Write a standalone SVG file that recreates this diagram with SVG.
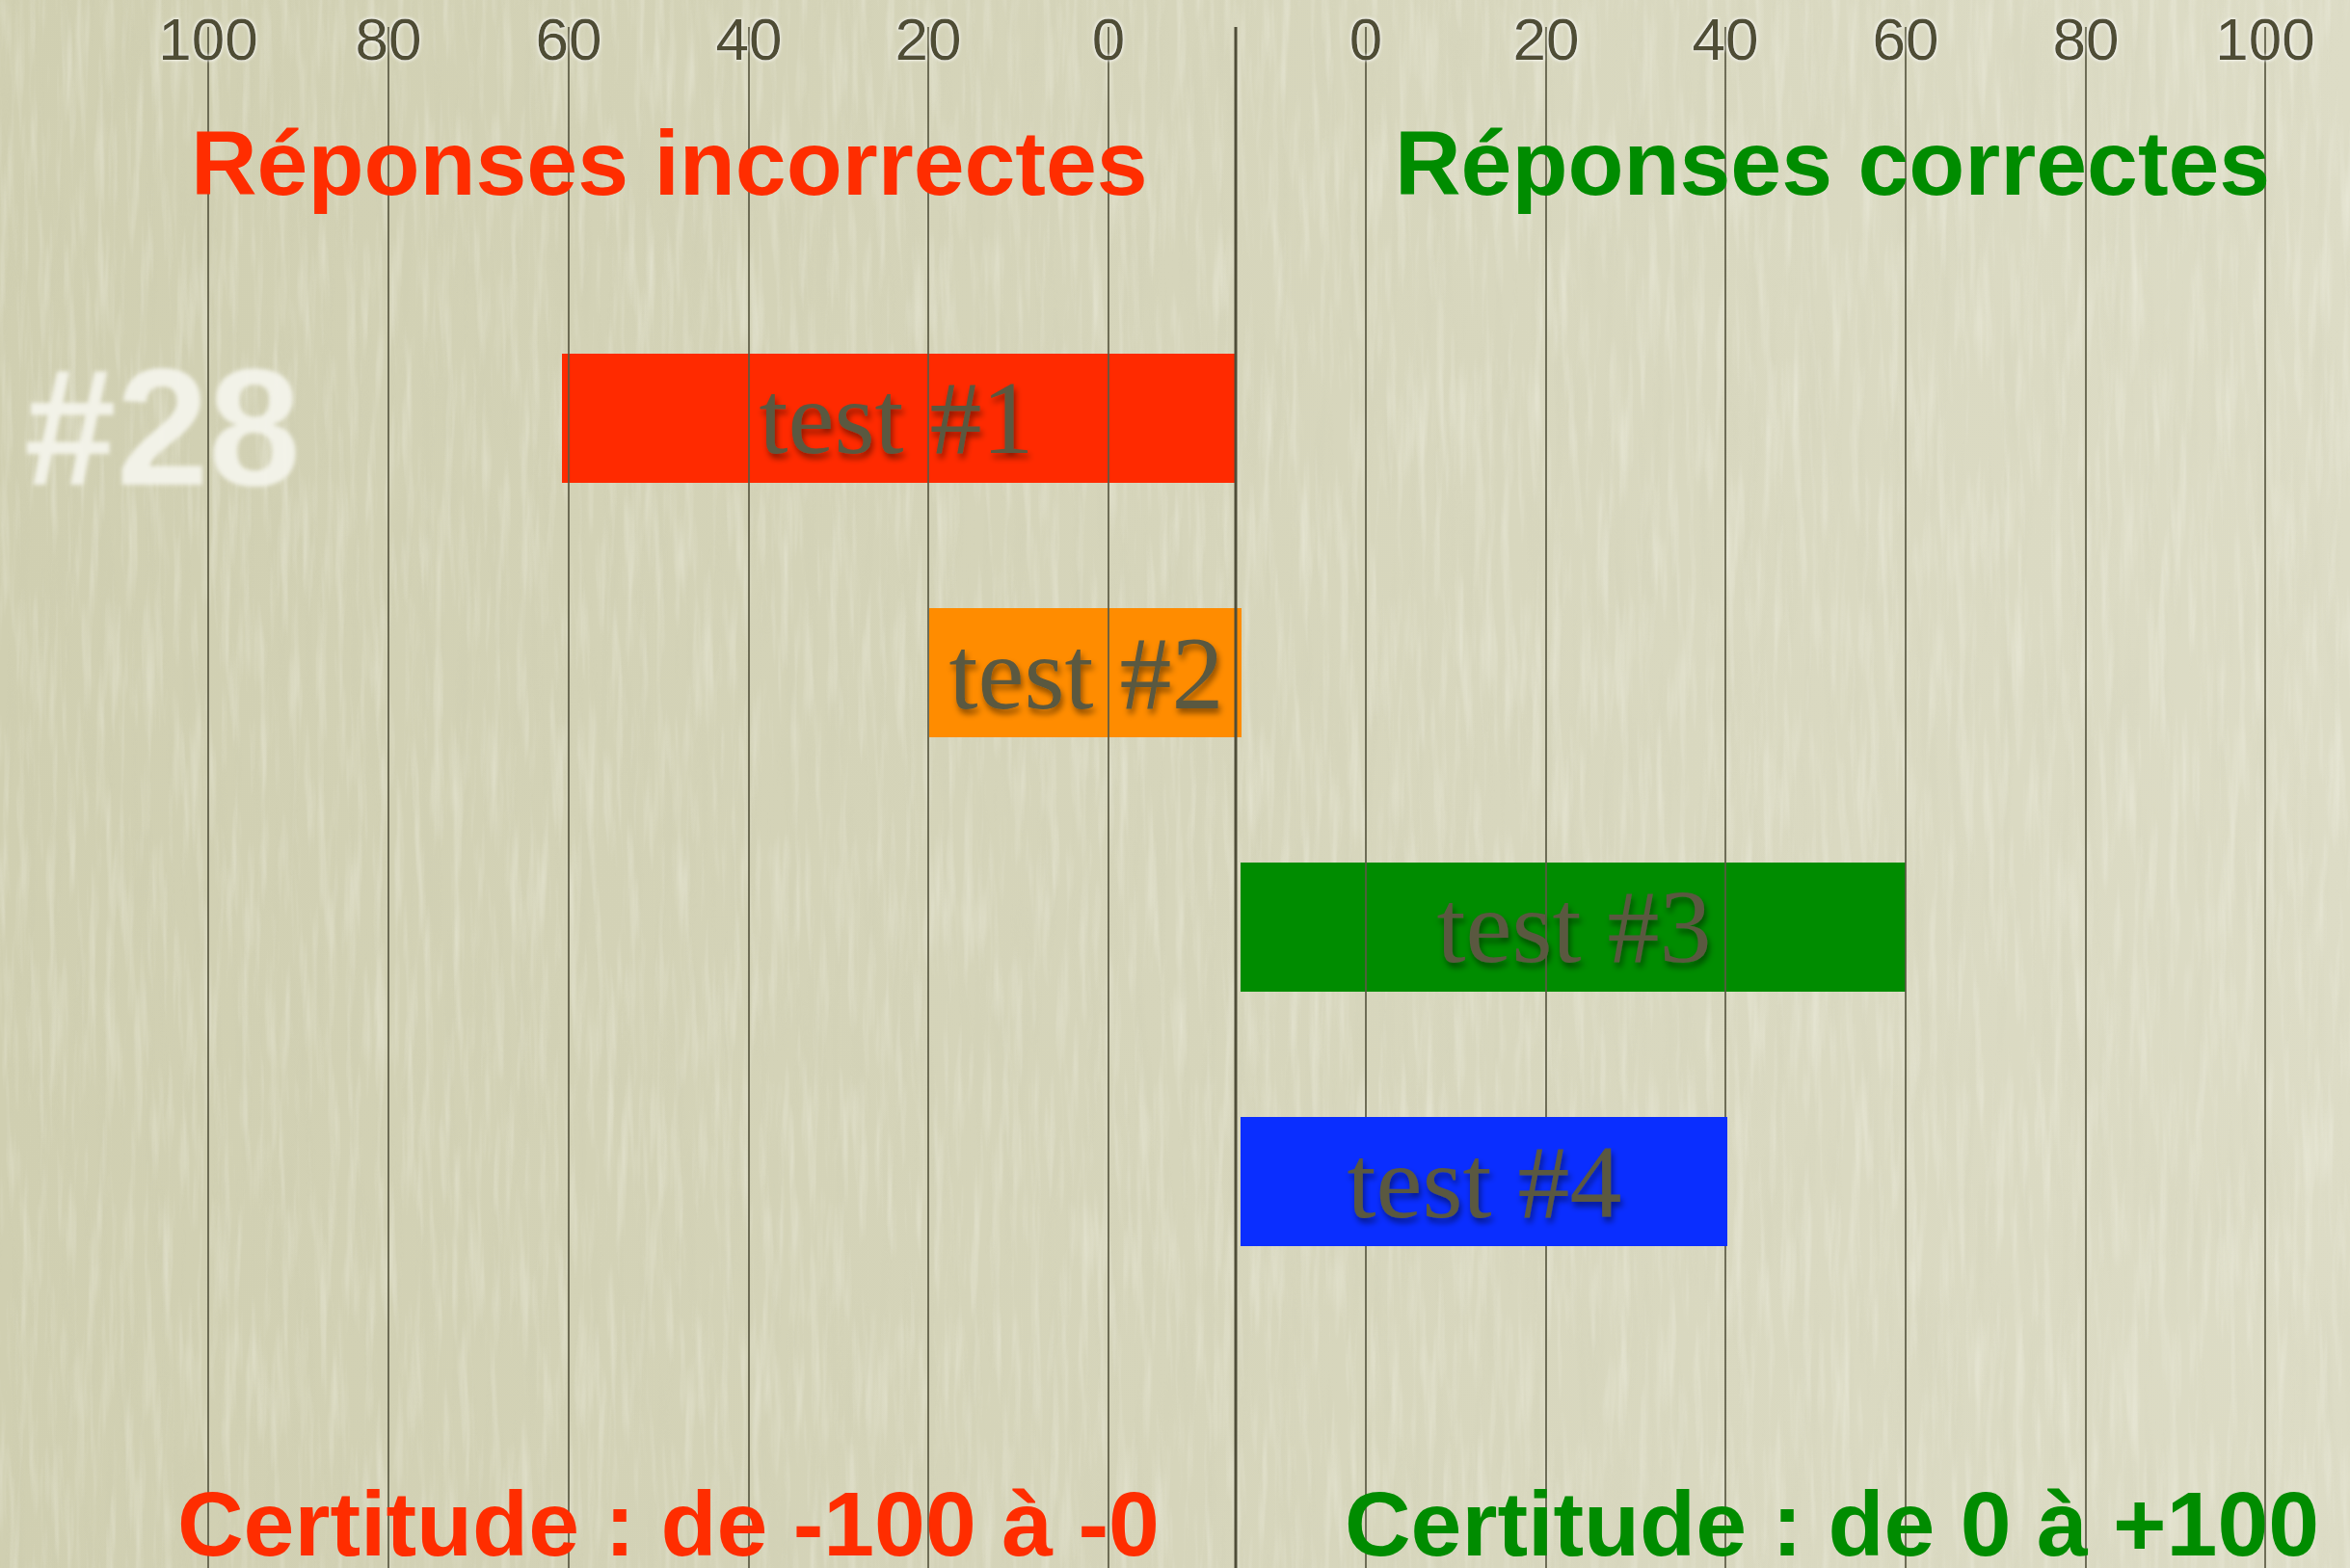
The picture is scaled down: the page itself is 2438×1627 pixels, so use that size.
<svg xmlns="http://www.w3.org/2000/svg" width="2438" height="1627" viewBox="0 0 2438 1627">
  <defs>
    <linearGradient id="bg" x1="0" y1="0" x2="1" y2="0">
      <stop offset="0" stop-color="#d0cfb1"/>
      <stop offset="0.5" stop-color="#d6d5bb"/>
      <stop offset="1" stop-color="#dddcc6"/>
    </linearGradient>
    <filter id="streaksLight" x="0" y="0" width="100%" height="100%">
      <feTurbulence type="fractalNoise" baseFrequency="0.1 0.008" numOctaves="3" seed="7"/>
      <feColorMatrix type="matrix" values="0 0 0 0 1  0 0 0 0 1  0 0 0 0 0.95  2.2 0 0 0 -1.05"/>
    </filter>
    <filter id="streaksDark" x="0" y="0" width="100%" height="100%">
      <feTurbulence type="fractalNoise" baseFrequency="0.08 0.006" numOctaves="2" seed="21"/>
      <feColorMatrix type="matrix" values="0 0 0 0 0.55  0 0 0 0 0.55  0 0 0 0 0.4  0 -2 0 0 1.0"/>
    </filter>
    <filter id="glow" x="-20%" y="-30%" width="140%" height="160%">
      <feMorphology in="SourceAlpha" operator="dilate" radius="1" result="d"/>
      <feGaussianBlur in="d" stdDeviation="1.5" result="b"/>
      <feFlood flood-color="#ffffff" flood-opacity="0.7"/>
      <feComposite in2="b" operator="in" result="g"/>
      <feMerge><feMergeNode in="g"/><feMergeNode in="SourceGraphic"/></feMerge>
    </filter>
    <filter id="shadow" x="-10%" y="-20%" width="120%" height="150%">
      <feDropShadow dx="2" dy="5" stdDeviation="3" flood-color="#000000" flood-opacity="0.45"/>
    </filter>
    <filter id="soft" x="-10%" y="-10%" width="120%" height="120%">
      <feGaussianBlur stdDeviation="2.2"/>
    </filter>
    <style>
      .tick { font-family: "Liberation Sans", Arial, sans-serif; font-size: 62px; fill: #4f4d36; text-anchor: middle; }
      .title { font-family: "Liberation Sans", Arial, sans-serif; font-size: 95px; font-weight: bold; }
      .red { fill: #ff2d00; }
      .green { fill: #008c00; }
      .grid { stroke: #5b5a44; stroke-width: 1.7; fill: none; }
      .axis { stroke: #4f4d38; stroke-width: 3; fill: none; }
      .lbl { font-family: "Liberation Serif", "Times New Roman", serif; font-size: 108px; fill: #5a5840; text-anchor: middle; }
    </style>
  </defs>

  <!-- background paper -->
  <rect x="0" y="0" width="2438" height="1627" fill="url(#bg)"/>
  <rect x="0" y="0" width="2438" height="1627" filter="url(#streaksDark)" opacity="0.15"/>
  <rect x="0" y="0" width="2438" height="1627" filter="url(#streaksLight)" opacity="0.3"/>

  <!-- watermark number -->
  <text x="25" y="503" font-family="Liberation Sans, Arial, sans-serif" font-size="172" font-weight="bold" fill="#f6f6ee" opacity="0.9" filter="url(#soft)">#28</text>

  <!-- bars beneath grid -->
  <g id="test1">
    <rect x="583" y="367" width="698" height="134" fill="#ff2a00"/>
    <text class="lbl" x="930" y="470" filter="url(#shadow)">test #1</text>
  </g>
  <g id="test2">
    <rect x="964" y="631" width="324" height="134" fill="#ff8c00"/>
    <text class="lbl" x="1127" y="735" filter="url(#shadow)">test #2</text>
  </g>
  <g id="test3">
    <rect x="1287" y="895" width="690" height="134" fill="#008c00"/>
    <text class="lbl" x="1633" y="998" filter="url(#shadow)">test #3</text>
  </g>

  <!-- grid / connectors -->
  <g id="grid">
    <line class="grid" x1="216" y1="28" x2="216" y2="1627"/>
    <line class="grid" x1="403" y1="28" x2="403" y2="1627"/>
    <line class="grid" x1="590" y1="28" x2="590" y2="1627"/>
    <line class="grid" x1="777" y1="28" x2="777" y2="1627"/>
    <line class="grid" x1="963" y1="28" x2="963" y2="1627"/>
    <line class="grid" x1="1150" y1="28" x2="1150" y2="1627"/>
    <line class="axis" x1="1282" y1="28" x2="1282" y2="1627"/>
    <line class="grid" x1="1417" y1="28" x2="1417" y2="1627"/>
    <line class="grid" x1="1604" y1="28" x2="1604" y2="1627"/>
    <line class="grid" x1="1790" y1="28" x2="1790" y2="1627"/>
    <line class="grid" x1="1977" y1="28" x2="1977" y2="1627"/>
    <line class="grid" x1="2164" y1="28" x2="2164" y2="1627"/>
    <line class="grid" x1="2350" y1="28" x2="2350" y2="1627"/>
  </g>

  <!-- tick labels -->
  <g id="ticks" filter="url(#glow)">
    <text class="tick" x="216" y="62">100</text>
    <text class="tick" x="403" y="62">80</text>
    <text class="tick" x="590" y="62">60</text>
    <text class="tick" x="777" y="62">40</text>
    <text class="tick" x="963" y="62">20</text>
    <text class="tick" x="1150" y="62">0</text>
    <text class="tick" x="1417" y="62">0</text>
    <text class="tick" x="1604" y="62">20</text>
    <text class="tick" x="1790" y="62">40</text>
    <text class="tick" x="1977" y="62">60</text>
    <text class="tick" x="2164" y="62">80</text>
    <text class="tick" x="2350" y="62">100</text>
  </g>

  <!-- bar above grid -->
  <g id="test4">
    <rect x="1287" y="1159" width="505" height="134" fill="#0a2eff"/>
    <text class="lbl" x="1540" y="1263" filter="url(#shadow)">test #4</text>
  </g>

  <!-- titles -->
  <g id="titles">
    <text class="title red" x="198" y="202">Réponses incorrectes</text>
    <text class="title green" x="1447" y="202">Réponses correctes</text>
    <text class="title red" x="184" y="1614">Certitude : de -100 à -0</text>
    <text class="title green" x="1395" y="1614">Certitude : de 0 à +100</text>
  </g>
</svg>
